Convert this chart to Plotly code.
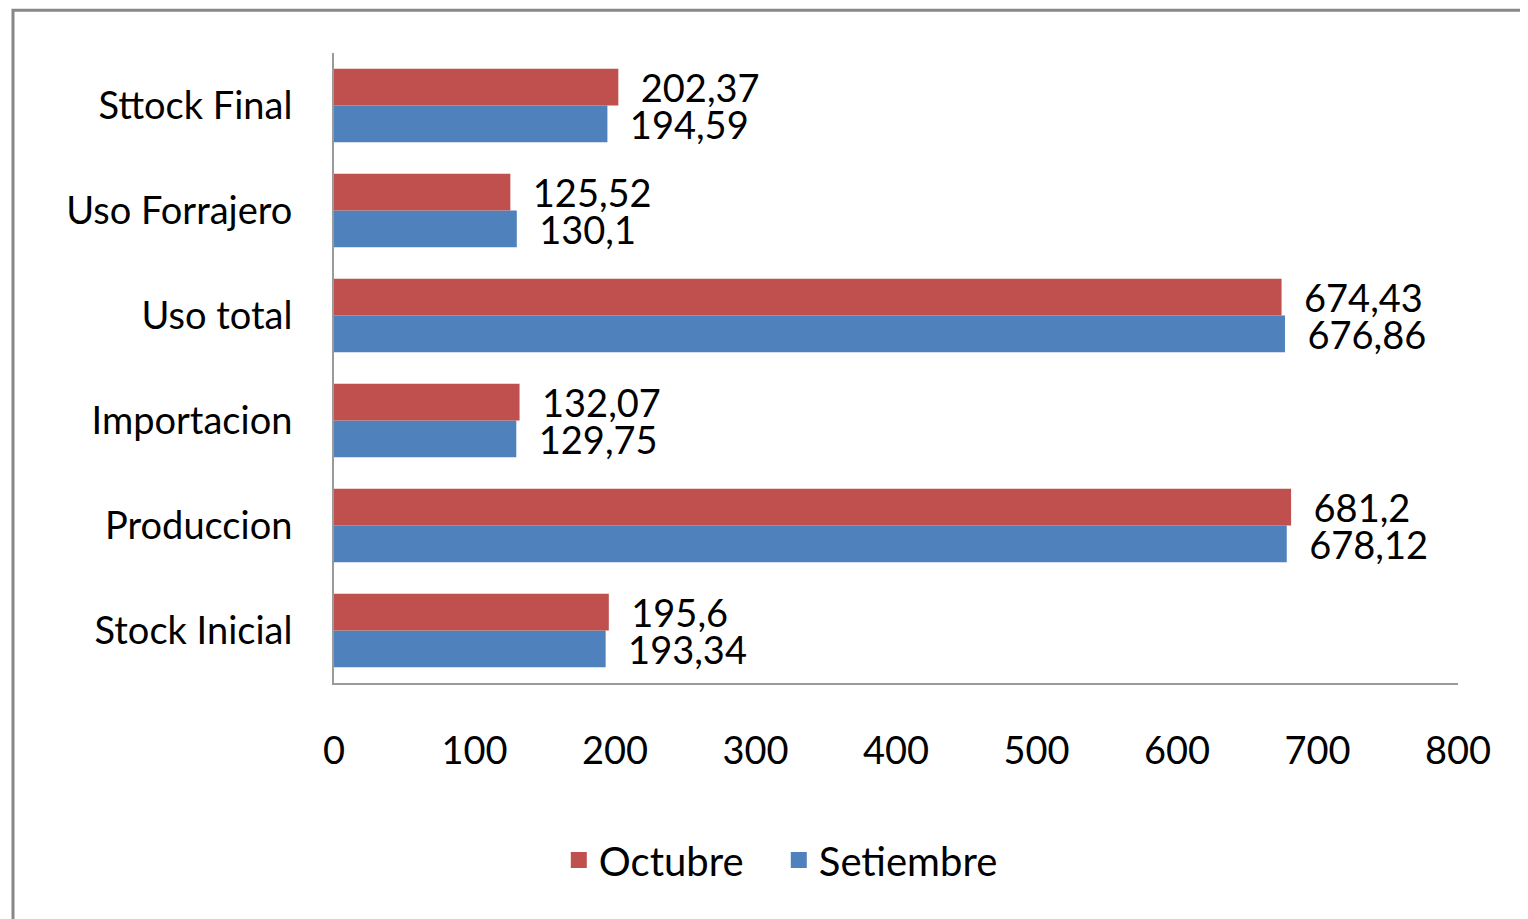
import plotly.graph_objects as go

categories = ["Stock Inicial", "Produccion", "Importacion", "Uso total", "Uso Forrajero", "Sttock Final"]
octubre = [195.6, 681.2, 132.07, 674.43, 125.52, 202.37]
setiembre = [193.34, 678.12, 129.75, 676.86, 130.1, 194.59]
x_ticks = [0, 100, 200, 300, 400, 500, 600, 700, 800]

RED = "#C0504D"
BLUE = "#4F81BD"


def fmt(v):
    return "  " + f"{v:g}".replace(".", ",")


FONT = "Lato"
FS = 38
LFS = 38

fig = go.Figure()
fig.add_trace(go.Bar(
    y=categories, x=setiembre, orientation="h", name="Setiembre",
    marker=dict(color=BLUE, line=dict(width=0)),
    text=[fmt(v) for v in setiembre], textposition="outside",
    textfont=dict(family=FONT, size=LFS, color="#000000"),
    constraintext="none", cliponaxis=False, showlegend=False,
))
fig.add_trace(go.Bar(
    y=categories, x=octubre, orientation="h", name="Octubre",
    marker=dict(color=RED, line=dict(width=0)),
    text=[fmt(v) for v in octubre], textposition="outside",
    textfont=dict(family=FONT, size=LFS, color="#000000"),
    constraintext="none", cliponaxis=False, showlegend=False,
))
# legend entries (square keys)
fig.add_trace(go.Scatter(x=[None], y=[None], mode="markers", name="Octubre",
                         marker=dict(symbol="square", size=16, color=RED, line=dict(width=0)),
                         legendrank=1))
fig.add_trace(go.Scatter(x=[None], y=[None], mode="markers", name="Setiembre",
                         marker=dict(symbol="square", size=16, color=BLUE, line=dict(width=0)),
                         legendrank=2))

fig.update_layout(
    width=1520, height=911,
    barmode="group", bargap=0.3, bargroupgap=0,
    paper_bgcolor="white", plot_bgcolor="white",
    margin=dict(l=326, r=70, t=45, b=236, pad=0),
    font=dict(family=FONT, size=FS, color="#000000"),
    xaxis=dict(range=[0, 800], tickvals=x_ticks, ticktext=[str(t) for t in x_ticks],
               showgrid=False, zeroline=False, showline=True, linecolor="#9a9a9a",
               linewidth=2, ticks="", ticklabelstandoff=33,
               tickfont=dict(family=FONT, size=FS)),
    yaxis=dict(categoryorder="array", categoryarray=categories,
               showgrid=False, zeroline=False, showline=True, linecolor="#9a9a9a",
               linewidth=2, ticks="", ticklabelstandoff=32,
               tickfont=dict(family=FONT, size=FS)),
    legend=dict(orientation="h", x=0.2, y=-0.281, xanchor="left", yanchor="middle",
                font=dict(family=FONT, size=40), itemsizing="trace",
                entrywidth=175, entrywidthmode="pixels",
                bgcolor="rgba(0,0,0,0)"),
    showlegend=True,
    shapes=[dict(type="rect", xref="paper", yref="paper",
                 x0=-0.2856, x1=1.2, y0=-0.6, y1=1.068,
                 line=dict(color="#878787", width=3), fillcolor="rgba(0,0,0,0)",
                 layer="below")],
)

fig.write_html("out.html")
